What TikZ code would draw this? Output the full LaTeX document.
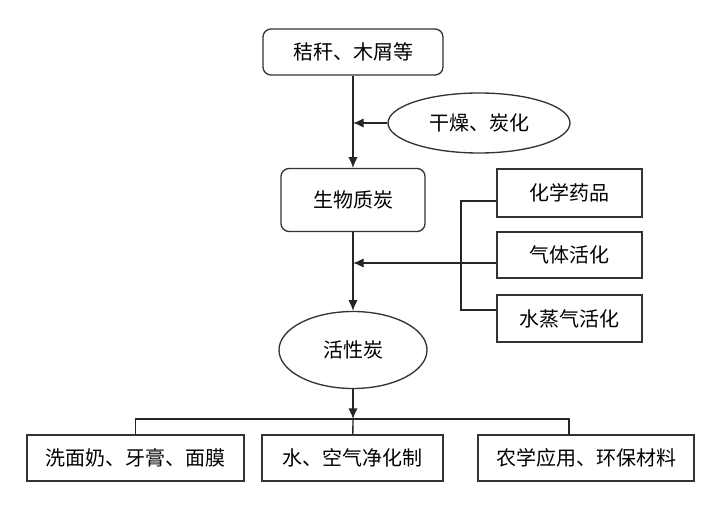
\documentclass[tikz,border=0pt]{standalone}
\usepackage{fontspec}
\newfontfamily\cjk{Noto Sans CJK SC}
\usetikzlibrary{shapes.geometric,arrows.meta}
\tikzset{
  txt/.style={font=\cjk\fontsize{15}{18}\selectfont,inner sep=0pt},
  rbox/.style={txt,draw=black!80,line width=1pt,rounded corners=6pt},
  sbox/.style={txt,draw=black!80,line width=1pt},
  oval/.style={txt,draw=black!80,line width=1pt,ellipse},
  link/.style={line width=1pt,black!85}
}
\begin{document}
\begin{tikzpicture}[x=0.75pt,y=-0.75pt,>={Latex[length=8pt,width=7pt]}]
\def\u{0.75pt}
\useasboundingbox (0,0) rectangle (723,505);
% main column
\node (straw) at (353,52) [rbox,minimum width=180*\u,minimum height=46*\u] {秸秆、木屑等};
\node (dry) at (479,123) [oval,minimum width=182*\u,minimum height=60*\u] {干燥、炭化};
\node (biochar) at (353,200) [rbox,minimum width=144*\u,minimum height=63*\u] {生物质炭};
\node (ac) at (353,350) [oval,minimum width=148*\u,minimum height=77*\u] {活性炭};
% activation methods
\node (chem) at (569.5,193) [sbox,minimum width=145*\u,minimum height=48*\u] {化学药品};
\node (gas) at (569.5,255) [sbox,minimum width=145*\u,minimum height=46*\u] {气体活化};
\node (steam) at (569.5,318.5) [sbox,minimum width=145*\u,minimum height=47*\u] {水蒸气活化};
% uses
\node (care) at (135.5,458) [sbox,minimum width=217*\u,minimum height=46*\u] {洗面奶、牙膏、面膜};
\node (clean) at (352.5,458) [sbox,minimum width=181*\u,minimum height=46*\u] {水、空气净化制};
\node (farm) at (586,458) [sbox,minimum width=216*\u,minimum height=46*\u] {农学应用、环保材料};

\draw[link,->] (straw) -- (biochar);
\draw[link,->] (dry) -- (straw.south |- dry.west);
\draw[link,->] (biochar) -- (ac);

\coordinate (bt) at (461,201);
\coordinate (bm) at (461,263);
\coordinate (bb) at (461,310);
\draw[link] (chem.west |- bt) -- (bt) -- (bb) -- (steam.west |- bb);
\draw[link,->] (gas.west |- bm) -- (biochar.south |- bm);

\coordinate (bus) at (353,419);
\draw[link,->] (ac) -- (bus);
\draw[link] (bus) -- (clean);
\draw[link] (care) -- (care.north |- bus) -- (569,419) -- (569,435);
\end{tikzpicture}
\end{document}
